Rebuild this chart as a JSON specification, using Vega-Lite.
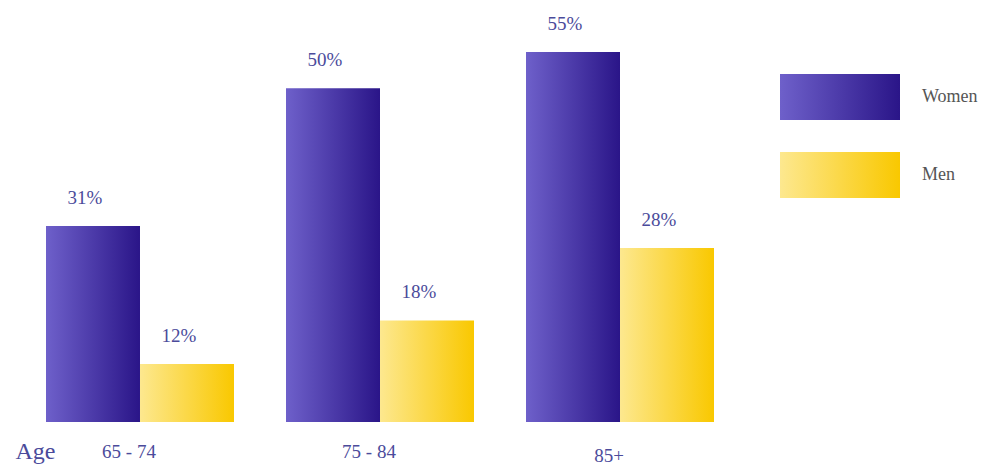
{
  "$schema": "https://vega.github.io/schema/vega-lite/v6.json",
  "width": 668,
  "height": 370,
  "autosize": {"type": "none"},
  "padding": {"left": 46, "top": 52, "right": 270, "bottom": 43},
  "background": "white",
  "config": {"view": {"stroke": null}, "font": "Liberation Serif"},
  "data": {
    "values": [
      {"age": "65 - 74", "sex": "Women", "pct": 0.31},
      {"age": "65 - 74", "sex": "Men", "pct": 0.12},
      {"age": "75 - 84", "sex": "Women", "pct": 0.50},
      {"age": "75 - 84", "sex": "Men", "pct": 0.18},
      {"age": "85+", "sex": "Women", "pct": 0.55},
      {"age": "85+", "sex": "Men", "pct": 0.28}
    ]
  },
  "encoding": {
    "x": {
      "field": "age",
      "type": "nominal",
      "sort": ["65 - 74", "75 - 84", "85+"],
      "scale": {"paddingInner": 0.2167, "paddingOuter": 0},
      "axis": {
        "title": "Age",
        "titleX": -31,
        "titleY": 36,
        "titleAlign": "left",
        "titleBaseline": "alphabetic",
        "titleFontSize": 24,
        "titleFontWeight": "normal",
        "titleColor": "#4b4b9b",
        "titleFont": "Liberation Serif",
        "labelFont": "Liberation Serif",
        "labelFontSize": 19,
        "labelColor": "#4b4b9b",
        "labelAngle": 0,
        "labelBaseline": "alphabetic",
        "labelPadding": {"condition": {"test": "datum.value === '85+'", "value": 39}, "value": 35},
        "labelOffset": -11,
        "domain": false,
        "ticks": false,
        "grid": false
      }
    },
    "xOffset": {
      "field": "sex",
      "type": "nominal",
      "sort": ["Women", "Men"],
      "scale": {"paddingInner": 0, "paddingOuter": 0}
    },
    "y": {
      "field": "pct",
      "type": "quantitative",
      "scale": {"domain": [0.04, 0.55], "zero": false},
      "axis": null
    }
  },
  "layer": [
    {
      "mark": {"type": "bar"},
      "encoding": {
        "y2": {"datum": 0.04},
        "fill": {
          "field": "sex",
          "type": "nominal",
          "scale": {
            "domain": ["Women", "Men"],
            "range": [
              {"expr": "{gradient: 'linear', x1: 0, y1: 0, x2: 1, y2: 0, stops: [{offset: 0, color: '#6e60ca'}, {offset: 1, color: '#2a1588'}]}"},
              {"expr": "{gradient: 'linear', x1: 0, y1: 0, x2: 1, y2: 0, stops: [{offset: 0, color: '#fde88f'}, {offset: 1, color: '#f9c800'}]}"}
            ]
          },
          "legend": {
            "orient": "none",
            "direction": "vertical",
            "legendX": 764,
            "legendY": 15,
            "title": null,
            "symbolType": "M-2,-0.7667H2V0.7667H-2Z",
            "symbolSize": 3600,
            "symbolStrokeWidth": 0,
            "symbolOpacity": 1,
            "rowPadding": 24,
            "labelOffset": 52,
            "labelFontSize": 18,
            "labelColor": "#555555",
            "labelFont": "Liberation Serif"
          }
        }
      }
    },
    {
      "mark": {"type": "text", "dy": -22, "dx": -8, "baseline": "alphabetic", "fontSize": 19, "color": "#4b4b9b", "font": "Liberation Serif"},
      "encoding": {
        "text": {"field": "pct", "type": "quantitative", "format": ".0%"}
      }
    }
  ]
}
